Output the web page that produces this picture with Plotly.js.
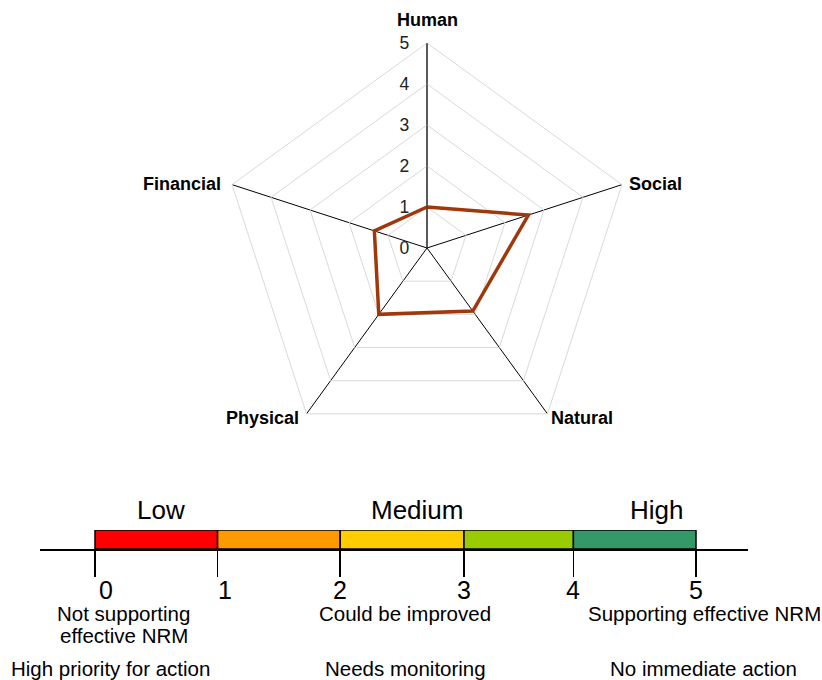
<!DOCTYPE html>
<html>
<head>
<meta charset="utf-8">
<script src="https://cdn.plot.ly/plotly-3.0.1.min.js"></script>
<style>html,body{margin:0;padding:0;background:#fff;}#chart{width:822px;height:680px;}</style>
</head>
<body>
<div id="chart"></div>
<script>
// Radar data
const capitals = ['Human', 'Social', 'Natural', 'Physical', 'Financial'];
const scores = [1.0, 2.6, 1.9, 2.0, 1.35];
const radialTicks = [0, 1, 2, 3, 4, 5];

// Rating scale data (segment boundaries)
const scaleBounds = [0, 1.02, 2.04, 3.07, 3.98, 5];
const scaleColors = ['#ff0000', '#ff9900', '#ffcc00', '#99cc00', '#339966'];
const scaleTickText = ['0', '1', '2', '3', '4', '5'];
const levelLabels = ['Low', 'Medium', 'High'];
const descLabels = ['Not supporting<br>effective NRM', 'Could be improved', 'Supporting effective NRM'];
const actionLabels = ['High priority for action', 'Needs monitoring', 'No immediate action'];

// label anchor positions on the scale axis
const levelX = [0.55, 2.68, 4.67];
const descX = [0.24, 2.58, 5.07];
const actionX = [0.125, 2.58, 5.06];
const digitX = [0.09, 1.08, 2.04, 3.07, 3.98, 5.0];

const FONT = 'Liberation Sans, Arial, Helvetica, sans-serif';
const W = 822, H = 680;
// radar geometry (pixels)
const CX = 427, CY = 248, R = 205;
const px = v => v / W, py = v => 1 - v / H;

const segStart = scaleBounds.slice(0, -1);
const segWidth = segStart.map((b, i) => scaleBounds[i + 1] - b);

const traces = [
  {
    type: 'scatterpolar',
    r: scores.concat([scores[0]]),
    theta: capitals.concat([capitals[0]]),
    mode: 'lines',
    line: {color: '#a0380c', width: 3.5},
    subplot: 'polar',
    showlegend: false,
    hoverinfo: 'skip'
  },
  {
    type: 'bar',
    orientation: 'h',
    x: segWidth,
    base: segStart,
    y: segStart.map(() => 0.5),
    width: 1,
    marker: {color: scaleColors, line: {color: '#000', width: 1.5}},
    xaxis: 'x',
    yaxis: 'y',
    showlegend: false,
    hoverinfo: 'skip'
  }
];

const annotations = [];
// angular category labels placed around the radar's outer vertices
const catPlace = [
  {xa: 'center', ya: 'bottom', dx: 0, dy: -11},
  {xa: 'left', ya: 'middle', dx: 5, dy: -1},
  {xa: 'left', ya: 'middle', dx: 2, dy: 4},
  {xa: 'right', ya: 'middle', dx: -6, dy: 4},
  {xa: 'right', ya: 'middle', dx: -9, dy: -1}
];
capitals.forEach((c, i) => {
  const a = (90 - 72 * i) * Math.PI / 180;
  const vx = CX + R * Math.cos(a), vy = CY - R * Math.sin(a);
  const p = catPlace[i];
  annotations.push({
    text: '<b>' + c + '</b>', x: px(vx + p.dx), y: py(vy + p.dy), xref: 'paper', yref: 'paper',
    xanchor: p.xa, yanchor: p.ya, showarrow: false,
    font: {family: FONT, size: 18, color: '#000'}
  });
});
levelLabels.forEach((t, i) => annotations.push({
  text: t, x: levelX[i], xref: 'x', y: py(510), yref: 'paper',
  showarrow: false, xanchor: 'center', yanchor: 'middle',
  font: {family: FONT, size: 26, color: '#000'}
}));
scaleTickText.forEach((t, i) => annotations.push({
  text: t, x: digitX[i], xref: 'x', y: py(590), yref: 'paper',
  showarrow: false, xanchor: 'center', yanchor: 'middle',
  font: {family: FONT, size: 25, color: '#000'}
}));
descLabels.forEach((t, i) => {
  t.split('<br>').forEach((line, j) => annotations.push({
    text: line, x: descX[i], xref: 'x', y: py(613 + 22 * j), yref: 'paper',
    showarrow: false, xanchor: 'center', yanchor: 'middle',
    font: {family: FONT, size: 20.5, color: '#000'}
  }));
});
actionLabels.forEach((t, i) => annotations.push({
  text: t, x: actionX[i], xref: 'x', y: py(668), yref: 'paper',
  showarrow: false, xanchor: 'center', yanchor: 'middle',
  font: {family: FONT, size: 20.5, color: '#000'}
}));

const layout = {
  width: W, height: H,
  margin: {l: 0, r: 0, t: 0, b: 0},
  paper_bgcolor: '#fff',
  plot_bgcolor: 'rgba(0,0,0,0)',
  font: {family: FONT, color: '#000'},
  showlegend: false,
  polar: {
    domain: {x: [px(CX - R), px(CX + R)], y: [py(CY + R), py(CY - R)]},
    gridshape: 'linear',
    bgcolor: '#fff',
    angularaxis: {
      direction: 'clockwise',
      rotation: 90,
      showline: true,
      linecolor: '#d9d9d9',
      linewidth: 1,
      showgrid: true,
      gridcolor: '#000',
      gridwidth: 1,
      ticks: '',
      showticklabels: false
    },
    radialaxis: {
      range: [0, 5],
      tickvals: radialTicks,
      angle: 90,
      tickangle: 90,
      side: 'counterclockwise',
      showline: true,
      linecolor: '#404040',
      linewidth: 1.2,
      gridcolor: '#d9d9d9',
      gridwidth: 1,
      ticks: 'outside',
      ticklen: 11,
      tickcolor: 'rgba(0,0,0,0)',
      tickfont: {family: FONT, size: 17.5, color: '#222'}
    }
  },
  xaxis: {
    domain: [px(40), px(748)],
    range: [(40 - 95) / 120.2, (748 - 95) / 120.2],
    anchor: 'y',
    showgrid: false,
    zeroline: false,
    showline: true,
    linecolor: '#000',
    linewidth: 1.5,
    ticks: 'outside',
    ticklen: 26,
    tickwidth: 1.5,
    tickcolor: '#000',
    tickvals: scaleBounds,
    showticklabels: false,
    fixedrange: true
  },
  yaxis: {
    domain: [py(549), py(530)],
    range: [0, 1],
    visible: false,
    fixedrange: true
  },
  annotations: annotations
};

Plotly.newPlot('chart', traces, layout, {staticPlot: true, displayModeBar: false});
</script>
</body>
</html>
